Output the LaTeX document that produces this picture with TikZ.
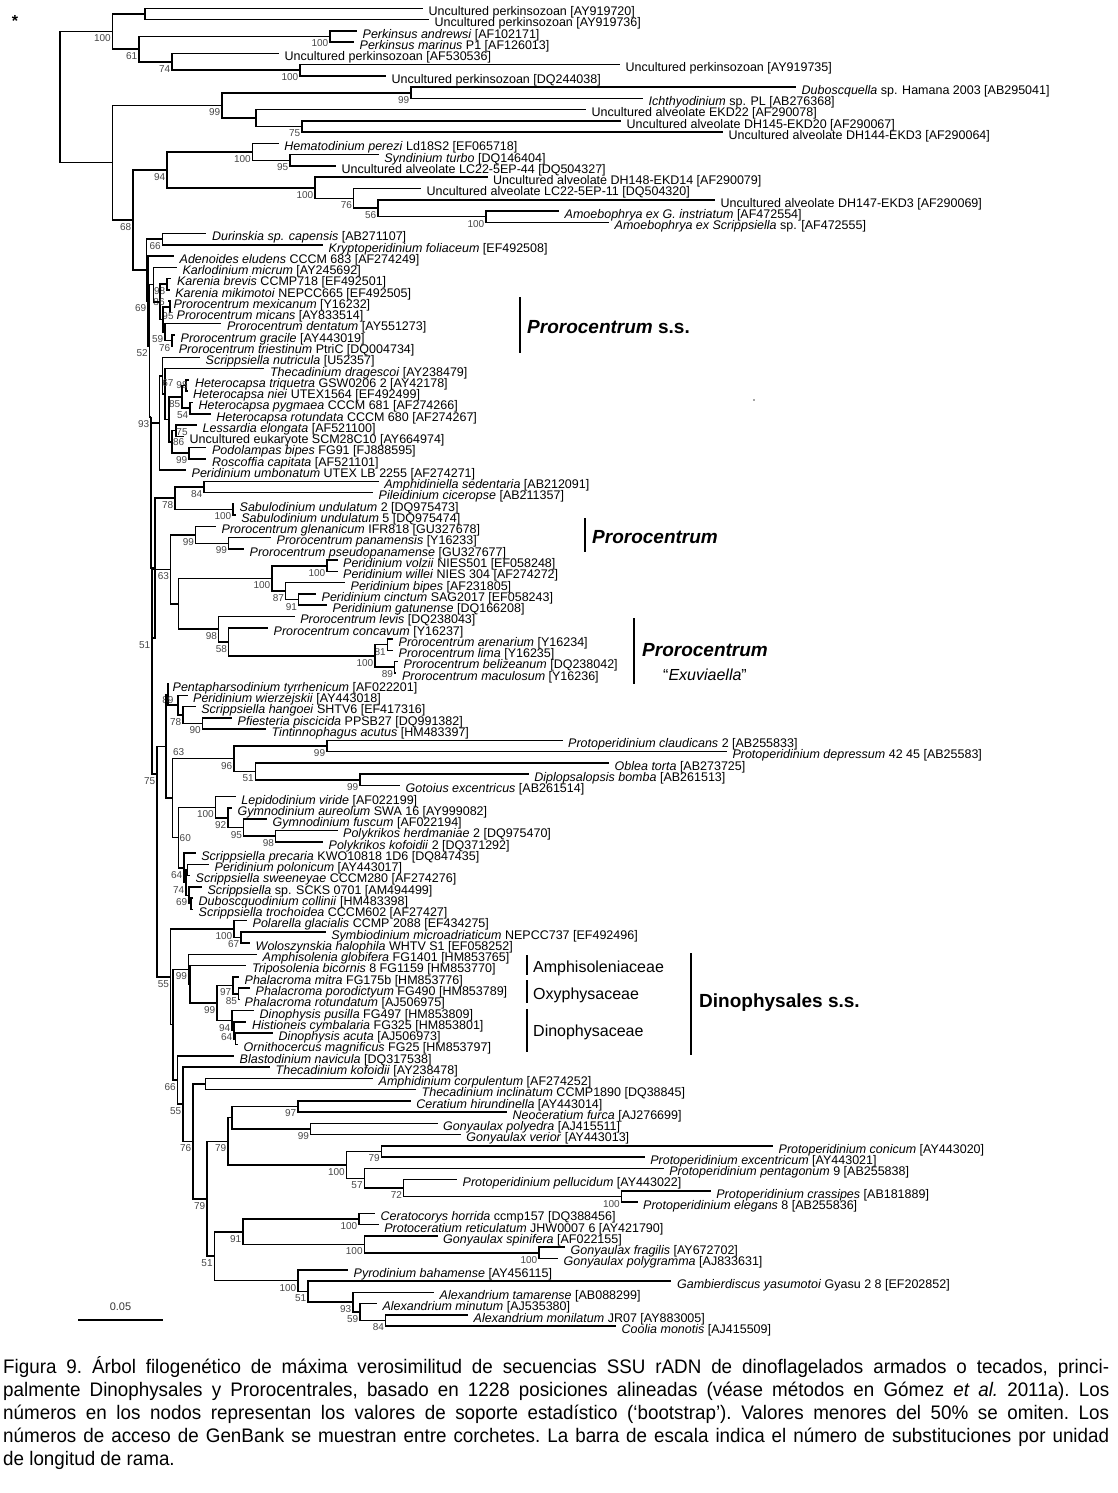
\documentclass[tikz,border=0pt]{standalone}
\usepackage{fontspec}
\setmainfont{Liberation Sans}
\newfontfamily\capfont[FakeStretch=0.96]{Liberation Sans}
\usetikzlibrary{calc}
\tikzset{
  br/.style={line width=1.5pt, black},
  lbl/.style={anchor=base west, inner sep=0pt, font=\fontsize{12.5}{13}\selectfont, text=black},
  bs/.style={anchor=east, inner sep=0pt, font=\fontsize{10}{10}\selectfont, text=black!72},
  bsc/.style={bs, anchor=center},
  clbar/.style={line width=2pt, black},
  smbar/.style={line width=1.4pt, black},
  bigclade/.style={anchor=base west, inner sep=0pt, font=\fontsize{19}{20}\selectfont\bfseries},
  famlbl/.style={anchor=base west, inner sep=0pt, font=\fontsize{16}{17}\selectfont},
  capline/.style={anchor=base west, inner sep=0pt, font=\capfont\fontsize{19.6}{20}\selectfont\frenchspacing},
}
% leaf: name, row index, tip x, text
\newcommand\LF[4]{%
  \coordinate (#1) at (#3,{8.3+(#2-1)*11.263});
  \node[lbl] (#1t) at ([xshift=5.5pt,yshift=-7.3pt]#1) {#4};}
% internal node, y = midpoint of children: name, x, child1, child2, support
\newcommand\ND[5]{%
  \path let \p1=(#3), \p2=(#4) in coordinate (#1) at (#2pt,{0.5*(\y1+\y2)});
  \draw[br] (#1) |- (#3) (#1) |- (#4);
  \node[bs] (#1b) at ([xshift=-1.5pt,yshift=-7pt]#1) {#5};}
% internal node with explicit y
\newcommand\NDY[6]{%
  \coordinate (#1) at (#2,#3);
  \draw[br] (#1) |- (#4) (#1) |- (#5);
  \node[bs] (#1b) at ([xshift=-1.5pt,yshift=-7pt]#1) {#6};}
% support value placed by hand (centre): name, x, y, text
\newcommand\BS[4]{\node[bsc] (#1) at (#2,#3) {#4};}
\begin{document}
\begin{tikzpicture}[x=1pt,y=-1pt]
\fill[white] (0,0) rectangle (1117,1493);
\useasboundingbox (0,0) rectangle (1117,1493);
\node[font=\fontsize{16}{16}\selectfont\bfseries] (star) at (15,21) {*};
% ---------------- leaves ----------------
\LF{L1}{1}{423}{Uncultured perkinsozoan [AY919720]}
\LF{L2}{2}{429}{Uncultured perkinsozoan [AY919736]}
\LF{L3}{3}{357}{\textit{Perkinsus andrewsi} [AF102171]}
\LF{L4}{4}{354}{\textit{Perkinsus marinus} P1 [AF126013]}
\LF{L5}{5}{279}{Uncultured perkinsozoan [AF530536]}
\LF{L6}{6}{620}{Uncultured perkinsozoan [AY919735]}
\LF{L7}{7}{386}{Uncultured perkinsozoan [DQ244038]}
\LF{L8}{8}{796}{\textit{Duboscquella} sp. Hamana 2003 [AB295041]}
\LF{L9}{9}{643}{\textit{Ichthyodinium} sp. PL [AB276368]}
\LF{L10}{10}{586}{Uncultured alveolate EKD22 [AF290078]}
\LF{L11}{11}{621}{Uncultured alveolate DH145-EKD20 [AF290067]}
\LF{L12}{12}{723}{Uncultured alveolate DH144-EKD3 [AF290064]}
\LF{L13}{13}{278.6}{\textit{Hematodinium perezi} Ld18S2 [EF065718]}
\LF{L14}{14}{378.6}{\textit{Syndinium turbo} [DQ146404]}
\LF{L15}{15}{336}{Uncultured alveolate LC22-5EP-44 [DQ504327]}
\LF{L16}{16}{487.5}{Uncultured alveolate DH148-EKD14 [AF290079]}
\LF{L17}{17}{421}{Uncultured alveolate LC22-5EP-11 [DQ504320]}
\LF{L18}{18}{715}{Uncultured alveolate DH147-EKD3 [AF290069]}
\LF{L19}{19}{559}{\textit{Amoebophrya ex G. instriatum} [AF472554]}
\LF{L20}{20}{609}{\textit{Amoebophrya ex Scrippsiella} sp. [AF472555]}
\LF{L21}{21}{206.4}{\textit{Durinskia sp. capensis} [AB271107]}
\LF{L22}{22}{323}{\textit{Kryptoperidinium foliaceum} [EF492508]}
\LF{L23}{23}{174}{\textit{Adenoides eludens} CCCM 683 [AF274249]}
\LF{L24}{24}{176.8}{\textit{Karlodinium micrum} [AY245692]}
\LF{L25}{25}{171.4}{\textit{Karenia brevis} CCMP718 [EF492501]}
\LF{L26}{26}{169.6}{\textit{Karenia mikimotoi} NEPCC665 [EF492505]}
\LF{L27}{27}{167.9}{\textit{Prorocentrum mexicanum} [Y16232]}
\LF{L28}{28}{171}{\textit{Prorocentrum micans} [AY833514]}
\LF{L29}{29}{221.4}{\textit{Prorocentrum dentatum} [AY551273]}
\LF{L30}{30}{175}{\textit{Prorocentrum gracile} [AY443019]}
\LF{L31}{31}{173.2}{\textit{Prorocentrum triestinum} PtriC [DQ004734]}
\LF{L32}{32}{200}{\textit{Scrippsiella nutricula} [U52357]}
\LF{L33}{33}{264.3}{\textit{Thecadinium dragescoi} [AY238479]}
\LF{L34}{34}{189.3}{\textit{Heterocapsa triquetra} GSW0206 2 [AY42178]}
\LF{L35}{35}{187.5}{\textit{Heterocapsa niei} UTEX1564 [EF492499]}
\LF{L36}{36}{192.9}{\textit{Heterocapsa pygmaea} CCCM 681 [AF274266]}
\LF{L37}{37}{210.7}{\textit{Heterocapsa rotundata} CCCM 680 [AF274267]}
\LF{L38}{38}{197}{\textit{Lessardia elongata} [AF521100]}
\LF{L39}{39}{184}{Uncultured eukaryote SCM28C10 [AY664974]}
\LF{L40}{40}{206.4}{\textit{Podolampas bipes} FG91 [FJ888595]}
\LF{L41}{41}{206.4}{\textit{Roscoffia capitata} [AF521101]}
\LF{L42}{42}{186}{\textit{Peridinium umbonatum} UTEX LB 2255 [AF274271]}
\LF{L43}{43}{378.6}{\textit{Amphidiniella sedentaria} [AB212091]}
\LF{L44}{44}{373}{\textit{Pileidinium ciceropse} [AB211357]}
\LF{L45}{45}{234}{\textit{Sabulodinium undulatum} 2 [DQ975473]}
\LF{L46}{46}{235.7}{\textit{Sabulodinium undulatum} 5 [DQ975474]}
\LF{L47}{47}{216}{\textit{Prorocentrum glenanicum} IFR818 [GU327678]}
\LF{L48}{48}{271}{\textit{Prorocentrum panamensis} [Y16233]}
\LF{L49}{49}{244}{\textit{Prorocentrum pseudopanamense} [GU327677]}
\LF{L50}{50}{337.5}{\textit{Peridinium volzii} NIES501 [EF058248]}
\LF{L51}{51}{337.5}{\textit{Peridinium willei} NIES 304 [AF274272]}
\LF{L52}{52}{345}{\textit{Peridinium bipes} [AF231805]}
\LF{L53}{53}{316}{\textit{Peridinium cinctum} SAG2017 [EF058243]}
\LF{L54}{54}{327}{\textit{Peridinium gatunense} [DQ166208]}
\LF{L55}{55}{294.6}{\textit{Prorocentrum levis} [DQ238043]}
\LF{L56}{56}{268}{\textit{Prorocentrum concavum} [Y16237]}
\LF{L57}{57}{393}{\textit{Prorocentrum arenarium} [Y16234]}
\LF{L58}{58}{393}{\textit{Prorocentrum lima} [Y16235]}
\LF{L59}{59}{398}{\textit{Prorocentrum belizeanum} [DQ238042]}
\LF{L60}{60}{396.4}{\textit{Prorocentrum maculosum} [Y16236]}
\LF{L61}{61}{167}{\textit{Pentapharsodinium tyrrhenicum} [AF022201]}
\LF{L62}{62}{187.5}{\textit{Peridinium wierzejskii} [AY443018]}
\LF{L63}{63}{195.7}{\textit{Scrippsiella hangoei} SHTV6 [EF417316]}
\LF{L64}{64}{232}{\textit{Pfiesteria piscicida} PPSB27 [DQ991382]}
\LF{L65}{65}{266}{\textit{Tintinnophagus acutus} [HM483397]}
\LF{L66}{66}{562.5}{\textit{Protoperidinium claudicans} 2 [AB255833]}
\LF{L67}{67}{726.8}{\textit{Protoperidinium depressum} 42 45 [AB25583]}
\LF{L68}{68}{609}{\textit{Oblea torta} [AB273725]}
\LF{L69}{69}{528.6}{\textit{Diplopsalopsis bomba} [AB261513]}
\LF{L70}{70}{400}{\textit{Gotoius excentricus} [AB261514]}
\LF{L71}{71}{235.7}{\textit{Lepidodinium viride} [AF022199]}
\LF{L72}{72}{232}{\textit{Gymnodinium aureolum} SWA 16 [AY999082]}
\LF{L73}{73}{267}{\textit{Gymnodinium fuscum} [AF022194]}
\LF{L74}{74}{337.5}{\textit{Polykrikos herdmaniae} 2 [DQ975470]}
\LF{L75}{75}{323}{\textit{Polykrikos kofoidii} 2 [DQ371292]}
\LF{L76}{76}{195.7}{\textit{Scrippsiella precaria} KWO10818 1D6 [DQ847435]}
\LF{L77}{77}{209}{\textit{Peridinium polonicum} [AY443017]}
\LF{L78}{78}{190}{\textit{Scrippsiella sweeneyae} CCCM280 [AF274276]}
\LF{L79}{79}{201.8}{\textit{Scrippsiella} sp. SCKS 0701 [AM494499]}
\LF{L80}{80}{193}{\textit{Duboscquodinium collinii} [HM483398]}
\LF{L81}{81}{193}{\textit{Scrippsiella trochoidea} CCCM602 [AF27427]}
\LF{L82}{82}{247}{\textit{Polarella glacialis} CCMP 2088 [EF434275]}
\LF{L83}{83}{325.7}{\textit{Symbiodinium microadriaticum} NEPCC737 [EF492496]}
\LF{L84}{84}{250}{\textit{Woloszynskia halophila} WHTV S1 [EF058252]}
\LF{L85}{85}{257}{\textit{Amphisolenia globifera} FG1401 [HM853765]}
\LF{L86}{86}{246.4}{\textit{Triposolenia bicornis} 8 FG1159 [HM853770]}
\LF{L87}{87}{239}{\textit{Phalacroma mitra} FG175b [HM853776]}
\LF{L88}{88}{250}{\textit{Phalacroma porodictyum} FG490 [HM853789]}
\LF{L89}{89}{239}{\textit{Phalacroma rotundatum} [AJ506975]}
\LF{L90}{90}{254}{\textit{Dinophysis pusilla} FG497 [HM853809]}
\LF{L91}{91}{246.4}{\textit{Histioneis cymbalaria} FG325 [HM853801]}
\LF{L92}{92}{273}{\textit{Dinophysis acuta} [AJ506973]}
\LF{L93}{93}{238}{\textit{Ornithocercus magnificus} FG25 [HM853797]}
\LF{L94}{94}{234}{\textit{Blastodinium navicula} [DQ317538]}
\LF{L95}{95}{270}{\textit{Thecadinium kofoidii} [AY238478]}
\LF{L96}{96}{373}{\textit{Amphidinium corpulentum} [AF274252]}
\LF{L97}{97}{416}{\textit{Thecadinium inclinatum} CCMP1890 [DQ38845]}
\LF{L98}{98}{410.7}{\textit{Ceratium hirundinella} [AY443014]}
\LF{L99}{99}{507}{\textit{Neoceratium furca} [AJ276699]}
\LF{L100}{100}{437.5}{\textit{Gonyaulax polyedra} [AJ415511]}
\LF{L101}{101}{460.7}{\textit{Gonyaulax verior} [AY443013]}
\LF{L102}{102}{773}{\textit{Protoperidinium conicum} [AY443020]}
\LF{L103}{103}{644.6}{\textit{Protoperidinium excentricum} [AY443021]}
\LF{L104}{104}{663.6}{\textit{Protoperidinium pentagonum} 9 [AB255838]}
\LF{L105}{105}{457}{\textit{Protoperidinium pellucidum} [AY443022]}
\LF{L106}{106}{710.7}{\textit{Protoperidinium crassipes} [AB181889]}
\LF{L107}{107}{637.5}{\textit{Protoperidinium elegans} 8 [AB255836]}
\LF{L108}{108}{375}{\textit{Ceratocorys horrida} ccmp157 [DQ388456]}
\LF{L109}{109}{378.6}{\textit{Protoceratium reticulatum} JHW0007 6 [AY421790]}
\LF{L110}{110}{437.5}{\textit{Gonyaulax spinifera} [AF022155]}
\LF{L111}{111}{565}{\textit{Gonyaulax fragilis} [AY672702]}
\LF{L112}{112}{558}{\textit{Gonyaulax polygramma} [AJ833631]}
\LF{L113}{113}{348}{\textit{Pyrodinium bahamense} [AY456115]}
\LF{L114}{114}{671.4}{\textit{Gambierdiscus yasumotoi} Gyasu 2 8 [EF202852]}
\LF{L115}{115}{434}{\textit{Alexandrium tamarense} [AB088299]}
\LF{L116}{116}{376.8}{\textit{Alexandrium minutum} [AJ535380]}
\LF{L117}{117}{468}{\textit{Alexandrium monilatum} JR07 [AY883005]}
\LF{L118}{118}{616}{\textit{Coolia monotis} [AJ415509]}
% ---------------- internal nodes: outgroups ----------------
\ND{A1}{145}{L1}{L2}{}
\ND{B1}{330}{L3}{L4}{100}
\ND{D}{300}{L6}{L7}{100}
\ND{C}{172}{L5}{D}{74}
\ND{B}{139}{B1}{C}{61}
\ND{A}{112.5}{A1}{B}{100}
\ND{G1}{411}{L8}{L9}{99}
\ND{G3}{302}{L11}{L12}{75}
\ND{G2}{256}{L10}{G3}{}
\ND{G}{222}{G1}{G2}{99}
\ND{H2}{290}{L14}{L15}{95}
\ND{H1}{252.5}{L13}{H2}{100}
\ND{H6}{486}{L19}{L20}{100}
\ND{H5}{378}{L18}{H6}{56}
\ND{H4}{353.6}{L17}{H5}{76}
\ND{H3}{315}{L16}{H4}{100}
\ND{H}{167}{H1}{H3}{94}
% ---------------- core dinoflagellates ----------------
\ND{D66}{162.5}{L21}{L22}{66}
\ND{K98}{167}{L25}{L26}{98}
\ND{P95}{170}{L27}{L28}{}
\BS{P95b}{168}{315.7}{95}
\ND{P76}{172}{L30}{L31}{76}
\ND{P59}{165}{L29}{P76}{59}
\ND{Pss}{163}{P95}{P59}{}
\ND{K86}{160}{K98}{Pss}{}
\BS{K86b}{159}{302.3}{86}
\ND{NKP}{153.6}{L24}{K86}{}
\ND{Hn1}{186}{L34}{L35}{}
\BS{Hn1b}{182}{385}{98}
\ND{Hn2}{190}{L36}{L37}{54}
\ND{Hn3}{182}{Hn1}{Hn2}{85}
\ND{E1}{176}{L38}{L39}{}
\BS{E1b}{178.6}{441.7}{86}
\ND{E2}{189}{L40}{L41}{99}
\ND{E3}{172}{E1}{E2}{}
\BS{E3b}{182}{431.7}{75}
\ND{HE}{169}{Hn3}{E3}{}
\ND{B33}{165}{L33}{HE}{}
\BS{B33b}{167.9}{383.3}{67}
\ND{B32}{162.5}{L32}{B33}{}
\ND{BB1}{159.6}{B32}{L42}{}
\ND{N84}{204}{L43}{L44}{84}
\ND{S100}{233}{L45}{L46}{100}
\ND{B2}{175}{N84}{S100}{78}
\ND{PP99}{228.6}{L48}{L49}{99}
\ND{P99}{195.7}{L47}{PP99}{99}
\ND{P1}{327}{L50}{L51}{100}
\ND{P3}{298.6}{L53}{L54}{91}
\ND{P2}{285.7}{L52}{P3}{87}
\ND{P0}{272}{P1}{P2}{100}
\ND{Q3}{387.5}{L57}{L58}{81}
\ND{Q4}{394.6}{L59}{L60}{89}
\ND{Q2}{375}{Q3}{Q4}{100}
\ND{Q1}{228.6}{L56}{Q2}{58}
\ND{Q0}{218.6}{L55}{Q1}{98}
\ND{NN}{178.6}{P0}{Q0}{}
\ND{M}{170.7}{P99}{NN}{63}
\ND{Pf}{202.5}{L64}{L65}{90}
\ND{N78b}{183}{L63}{Pf}{78}
\ND{W89}{178}{L62}{N78b}{}
\ND{P89}{168}{L61}{W89}{}
\BS{P89b}{167.9}{700}{89}
\ND{Pc99}{326.8}{L66}{L67}{99}
\ND{DG}{360}{L69}{L70}{99}
\ND{OB}{255.4}{L68}{DG}{51}
\ND{PR}{234}{Pc99}{OB}{96}
\ND{PK}{275.7}{L74}{L75}{98}
\ND{G95}{243.6}{L73}{PK}{95}
\ND{G92}{227.9}{L72}{G95}{92}
\ND{Lp100}{215.4}{L71}{G92}{100}
\ND{NPS}{187.5}{L77}{L78}{}
\ND{NCT}{191}{L80}{L81}{}
\ND{N69b}{189}{L79}{NCT}{69}
\ND{N74}{186}{NPS}{N69b}{74}
\ND{N64}{184}{L76}{N74}{64}
\ND{N60}{178.6}{Lp100}{N64}{}
\BS{N60b}{185.3}{838.3}{60}
\ND{N23}{172.5}{PR}{N60}{}
\ND{N63}{166}{P89}{N23}{}
\BS{N63b}{178.6}{751.7}{63}
\ND{PO1}{241}{L83}{L84}{67}
\ND{PO0}{234}{L82}{PO1}{100}
\ND{PH1}{238.6}{L88}{L89}{85}
\ND{PH0}{233}{L87}{PH1}{97}
\ND{DN2}{235.7}{L92}{L93}{}
\ND{DN1}{234}{L91}{DN2}{64}
\ND{DN0}{232}{L90}{DN1}{94}
\ND{OD}{217}{PH0}{DN0}{99}
\ND{DA1}{190}{L86}{OD}{}
\ND{DA0}{188.6}{L85}{DA1}{99}
\ND{AC}{205.4}{L96}{L97}{}
\ND{C97}{298}{L98}{L99}{97}
\ND{G99}{310.7}{L100}{L101}{99}
\ND{R1}{232}{C97}{G99}{}
\ND{S1}{381.4}{L102}{L103}{79}
\ND{S5}{621.4}{L106}{L107}{100}
\ND{S4}{403.6}{L105}{S5}{72}
\ND{S3}{364.3}{L104}{S4}{57}
\ND{S2}{346.4}{S1}{S3}{100}
\ND{R2}{228}{R1}{S2}{79}
\ND{CP}{359}{L108}{L109}{100}
\ND{T2}{539}{L111}{L112}{100}
\ND{T1}{364.3}{L110}{T2}{100}
\ND{T0}{243}{CP}{T1}{91}
\ND{U4}{385.7}{L117}{L118}{84}
\ND{U3}{360}{L116}{U4}{59}
\ND{U2}{353}{L115}{U3}{93}
\ND{U1}{308}{L114}{U2}{51}
\ND{U0}{298}{L113}{U1}{100}
\ND{V0}{214.3}{T0}{U0}{51}
\ND{W}{207}{R2}{V0}{79}
\ND{X76}{193}{AC}{W}{76}
\ND{X55}{183}{L95}{X76}{55}
\ND{X66}{177.5}{L94}{X55}{66}
\ND{Y}{173}{DA0}{X66}{}
\ND{X55u}{170.7}{PO0}{Y}{55}
% spine (explicit heights)
\NDY{N75}{157}{774}{N63}{X55u}{75}
\NDY{N51}{152}{638}{M}{N75}{51}
\ND{NB2}{155}{B2}{N51}{}
\NDY{N93}{151}{417}{BB1}{NB2}{93}
\NDY{N52}{149.5}{346}{NKP}{N93}{52}
\NDY{N69}{148}{301}{L23}{N52}{69}
\NDY{I}{146.4}{270}{D66}{N69}{}
\ND{F}{133}{H}{I}{68}
\ND{E}{112.5}{G}{F}{}
\ND{R0}{60}{A}{E}{}
% ---------------- clade annotations ----------------
\draw[clbar] (520,297) coordinate (pssA) -- (520,353) coordinate (pssB);
\node[bigclade] (pss) at (527,333) {\textit{Prorocentrum} s.s.};
\draw[clbar] (585,518) coordinate (prA) -- (585,552) coordinate (prB);
\node[bigclade] (pr) at (592,543) {\textit{Prorocentrum}};
\draw[clbar] (634,618) coordinate (exA) -- (634,684) coordinate (exB);
\node[bigclade] (pr2) at (642,656) {\textit{Prorocentrum}};
\node[anchor=base, inner sep=0pt, font=\fontsize{16}{17}\selectfont] (exu) at (705,680) {“\textit{Exuviaella}”};
\draw[smbar] (527,955) coordinate (amA) -- (527,975) coordinate (amB);
\node[famlbl] (amph) at (533,972) {Amphisoleniaceae};
\draw[smbar] (527,980) coordinate (oxA) -- (527,1003) coordinate (oxB);
\node[famlbl] (oxy) at (533,999) {Oxyphysaceae};
\draw[smbar] (527,1009) coordinate (diA) -- (527,1052) coordinate (diB);
\node[famlbl] (dino) at (533,1036) {Dinophysaceae};
\draw[clbar] (691,953) coordinate (dsA) -- (691,1055) coordinate (dsB);
\node[bigclade] (dss) at (699,1007) {Dinophysales s.s.};
\fill[black!70] (754,400) circle (0.8) coordinate (speck);
% scale bar
\draw[line width=1.5pt] (78,1320) coordinate (sbA) -- (163,1320) coordinate (sbB);
\node[anchor=base, inner sep=0pt, font=\fontsize{11}{12}\selectfont, text=black!80] (sbl) at (120.5,1310) {0.05};
% ---------------- caption ----------------
\node[capline] (cap1) at (3,1373) {\makebox[1106pt][s]{Figura 9. Árbol filogenético de máxima verosimilitud de secuencias SSU rADN de dinoflagelados armados o tecados, princi-}};
\node[capline] (cap2) at (3,1396) {\makebox[1106pt][s]{palmente Dinophysales y Prorocentrales, basado en 1228 posiciones alineadas (véase métodos en Gómez \textit{et al.} 2011a). Los}};
\node[capline] (cap3) at (3,1419) {\makebox[1106pt][s]{números en los nodos representan los valores de soporte estadístico (‘bootstrap’). Valores menores del 50\% se omiten. Los}};
\node[capline] (cap4) at (3,1442) {\makebox[1106pt][s]{números de acceso de GenBank se muestran entre corchetes. La barra de escala indica el número de substituciones por unidad}};
\node[capline] (cap5) at (3,1465) {de longitud de rama.};
\end{tikzpicture}
\end{document}
